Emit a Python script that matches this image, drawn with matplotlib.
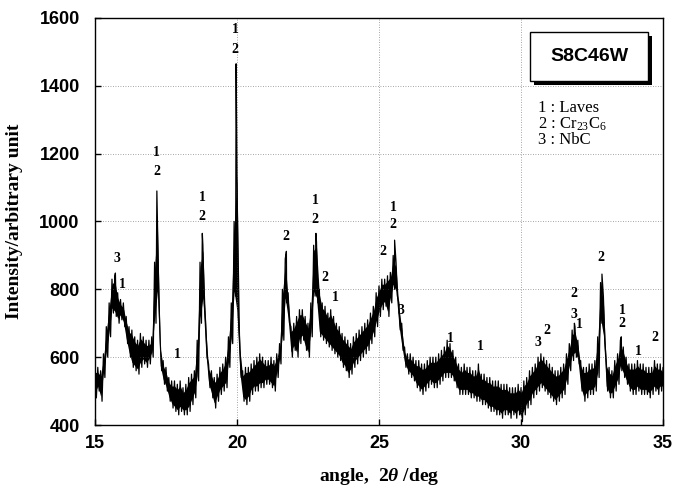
import numpy as np
import matplotlib.pyplot as plt
from matplotlib.patches import Rectangle

plt.rcParams['mathtext.fontset'] = 'custom'
plt.rcParams['mathtext.rm'] = 'Liberation Serif'
plt.rcParams['mathtext.it'] = 'Liberation Serif:italic:bold'
plt.rcParams['mathtext.bf'] = 'Liberation Serif:bold'

# scan grid, 15.0 .. 35.0 deg every 0.1 deg
angle = np.round(np.arange(15.0, 35.01, 0.1), 1)

# lower / upper edge of the noisy trace (one row per degree)
lower = [480, 500, 470, 540, 600, 660, 730, 720, 700, 710,
         690, 640, 600, 570, 560, 550, 570, 580, 570, 580,
         600, 700, 780, 560, 520, 500, 470, 450, 440, 430,
         440, 430, 430, 440, 460, 480, 530, 700, 760, 600,
         510, 480, 450, 470, 490, 500, 510, 570, 640, 780,
         720, 540, 470, 460, 470, 490, 500, 500, 510, 510,
         520, 520, 510, 500, 540, 580, 650, 760, 700, 600,
         620, 600, 640, 650, 620, 600, 660, 780, 760, 660,
         650, 640, 630, 620, 610, 600, 590, 570, 560, 540,
         550, 570, 580, 590, 600, 610, 620, 640, 660, 690,
         720, 740, 750, 720, 760, 800, 780, 680, 620, 570,
         550, 540, 530, 510, 500, 490, 500, 510, 520, 510,
         510, 520, 530, 540, 540, 540, 530, 510, 490, 490,
         490, 490, 480, 480, 470, 470, 460, 460, 450, 440,
         440, 430, 430, 420, 430, 430, 420, 430, 420, 430,
         410, 430, 450, 460, 480, 490, 500, 510, 500, 490,
         480, 470, 460, 470, 480, 490, 520, 560, 590, 600,
         580, 500, 470, 480, 490, 490, 500, 540, 700, 650,
         500, 480, 480, 500, 520, 560, 540, 520, 500, 490,
         490, 500, 490, 490, 490, 480, 490, 500, 490, 500,
         500]
upper = [570, 570, 560, 610, 690, 760, 830, 840, 790, 770,
         760, 720, 690, 680, 660, 650, 670, 660, 650, 650,
         660, 880, 1000, 640, 590, 570, 540, 530, 530, 520,
         530, 510, 520, 540, 550, 560, 650, 880, 930, 700,
         580, 560, 540, 550, 570, 580, 600, 660, 760, 1000,
         1150, 640, 560, 570, 570, 580, 590, 600, 610, 600,
         590, 590, 600, 590, 610, 640, 800, 890, 790, 690,
         700, 720, 740, 740, 720, 700, 760, 930, 940, 800,
         760, 750, 730, 740, 720, 700, 690, 670, 660, 650,
         640, 660, 670, 680, 690, 700, 710, 730, 750, 790,
         810, 830, 830, 840, 850, 900, 880, 760, 700, 630,
         610, 610, 600, 590, 590, 580, 580, 590, 600, 600,
         600, 610, 620, 630, 650, 640, 620, 600, 580, 570,
         580, 570, 570, 560, 560, 580, 550, 550, 540, 540,
         530, 530, 530, 520, 520, 520, 510, 510, 510, 520,
         510, 530, 540, 560, 570, 580, 600, 610, 600, 590,
         580, 570, 560, 560, 570, 580, 610, 640, 680, 690,
         650, 590, 570, 570, 580, 580, 590, 660, 820, 780,
         590, 570, 560, 590, 610, 650, 630, 600, 580, 580,
         580, 590, 580, 580, 570, 570, 570, 590, 580, 580,
         570]

# sharp reflections
peak_angle = [15.72, 17.18, 18.78, 19.97, 21.74, 22.78, 25.55, 31.88, 32.85, 33.53]
peak_top = [848, 1090, 965, 1465, 912, 965, 945, 700, 845, 660]

# phase marks over the peaks
lab_text = ['3', '1', '1', '2', '1', '2', '1', '2', '1', '2', '1', '2',
            '2', '1', '2', '1', '2', '3', '1', '1', '3', '2',
            '2', '3', '1', '2', '1', '2', '1', '2']
lab_x = [15.77, 15.95, 17.18, 17.18, 18.77, 18.77, 19.93, 19.93, 17.92, 21.73, 22.75, 22.75,
         23.1, 23.45, 25.15, 25.5, 25.5, 25.77, 27.5, 28.56, 30.6, 30.92,
         31.87, 31.87, 32.04, 32.82, 33.56, 33.56, 34.15, 34.72]
lab_y = [892, 813, 1202, 1146, 1072, 1016, 1567, 1508, 609, 957, 1063, 1007,
         836, 777, 911, 1040, 990, 739, 656, 630, 642, 680,
         789, 727, 695, 895, 739, 700, 618, 659]

phases = ['1 : Laves', '2 : Cr$_{\\mathregular{23}}$C$_{\\mathregular{6}}$', '3 : NbC']

# build the jagged trace: top edge then bottom edge half a step later
xs = []
ys = []
for a, lo, hi in zip(angle, lower, upper):
    xs += [a, a + 0.05]
    ys += [hi, lo]
xs += peak_angle
ys += peak_top
order = np.argsort(xs, kind='stable')
xs = np.array(xs)[order]
ys = np.array(ys)[order]

fig = plt.figure(figsize=(6.88, 4.86), dpi=100)
ax = fig.add_axes([0.138, 0.1255, 0.8257, 0.8375])

ax.fill_between(angle, np.array(lower) + 15, np.array(upper) - 15,
                color='black', lw=0)
ax.plot(xs, ys, color='black', lw=0.9)

ax.set_xlim(15, 35)
ax.set_ylim(400, 1600)
ax.set_xticks([15, 20, 25, 30, 35])
ax.set_yticks([400, 600, 800, 1000, 1200, 1400, 1600])
ax.grid(True, ls=(0, (1, 2)), color='#888888', lw=0.6)
ax.tick_params(direction='in', length=4, width=1, top=False, right=False)
ax.tick_params(axis='y', pad=11)
ax.tick_params(axis='x', pad=7)
for lab in ax.get_xticklabels() + ax.get_yticklabels():
    lab.set_family('Liberation Sans')
    lab.set_fontweight('bold')
    lab.set_fontsize(13)
for s in ax.spines.values():
    s.set_linewidth(1.0)

for t, x, y in zip(lab_text, lab_x, lab_y):
    ax.text(x, y, t, ha='center', va='center', fontsize=10,
            family='Liberation Serif', fontweight='bold')

# sample name box with drop shadow
ax.add_patch(Rectangle((30.46, 1401), 4.15, 146, fc='black', ec='none', zorder=5))
ax.add_patch(Rectangle((30.32, 1413), 4.15, 146, fc='white', ec='black', lw=1, zorder=6))
ax.text(32.4, 1486, 'S8C46W', ha='center', va='center', fontsize=14,
        family='Liberation Sans', fontweight='bold', zorder=7)

for i, p in enumerate(phases):
    ax.text(30.6, 1335 - 47 * i, p, ha='left', va='center', fontsize=12,
            family='Liberation Serif')

ax.set_ylabel('Intensity/arbitrary unit', family='Liberation Serif',
              fontweight='bold', fontsize=14, labelpad=12)
ax.set_xlabel('angle,  2$\\mathit{\\theta}$ /deg', family='Liberation Serif',
              fontweight='bold', fontsize=14, labelpad=10)

fig.savefig('out.png', dpi=100)
